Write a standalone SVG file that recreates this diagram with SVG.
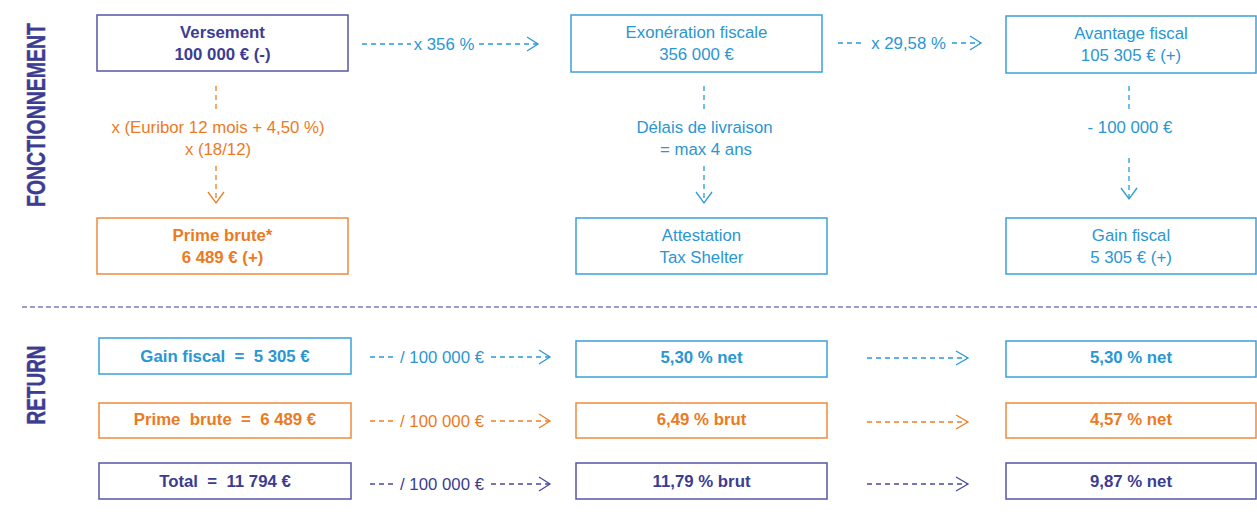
<svg xmlns="http://www.w3.org/2000/svg" width="1257" height="514" viewBox="0 0 1257 514">
<style>
text{font-family:"Liberation Sans",Arial,sans-serif;font-size:16.8px;text-anchor:middle;white-space:pre}
.b{font-weight:bold}
.cd{fill:#3c3c93}.cb{fill:#2a96d2}.co{fill:#ec7a1f}
.box{fill:#fff;stroke-width:1.5}
.sd{stroke:#5656a6}.sb{stroke:#3aa0d6}.so{stroke:#f08a3c}
.ln{fill:none;stroke-width:1.3;stroke-dasharray:5 4}
.hd{fill:none;stroke-width:1.3}
.ld{stroke:#4a4aa0}.lb{stroke:#2a9ad4}.lo{stroke:#ef7d22}
.title{font-weight:bold;font-size:25px;fill:#3c3c93;stroke:#3c3c93;stroke-width:0.4}
</style>
<rect width="1257" height="514" fill="#fff"/>
<text class="title" transform="translate(45,115) rotate(-90) scale(0.78,1)">FONCTIONNEMENT</text>
<text class="title" transform="translate(45,385) rotate(-90) scale(0.76,1)">RETURN</text>
<line x1="22" y1="307" x2="1257" y2="307" stroke="#7b7bbf" stroke-width="1.5" stroke-dasharray="5 3"/>

<g id="versement"><rect class="box sd" x="97" y="15" width="251" height="56"/><text class="b cd" x="222.5" y="38">Versement</text><text class="b cd" x="222.5" y="60">100 000 € (-)</text></g>
<g id="exoneration"><rect class="box sb" x="571" y="15" width="251" height="57"/><text class="cb" x="696.5" y="38">Exonération fiscale</text><text class="cb" x="696.5" y="60">356 000 €</text></g>
<g id="avantage"><rect class="box sb" x="1006" y="16" width="250" height="57"/><text class="cb" x="1131" y="39">Avantage fiscal</text><text class="cb" x="1131" y="61">105 305 € (+)</text></g>
<g id="prime"><rect class="box so" x="97" y="218" width="251" height="56"/><text class="b co" x="222.5" y="241">Prime brute*</text><text class="b co" x="222.5" y="263">6 489 € (+)</text></g>
<g id="attestation"><rect class="box sb" x="576" y="218" width="251" height="56"/><text class="cb" x="701.5" y="241">Attestation</text><text class="cb" x="701.5" y="263">Tax Shelter</text></g>
<g id="gain"><rect class="box sb" x="1006" y="218" width="250" height="56"/><text class="cb" x="1131" y="241">Gain fiscal</text><text class="cb" x="1131" y="263">5 305 € (+)</text></g>

<g id="r-gain"><rect class="box sb" x="99" y="338" width="252" height="36"/><text class="b cb" x="225" y="361.5">Gain fiscal  =  5 305 €</text></g>
<g id="r-prime"><rect class="box so" x="99" y="403" width="252" height="35"/><text class="b co" x="225" y="424.5">Prime  brute  =  6 489 €</text></g>
<g id="r-total"><rect class="box sd" x="99" y="463" width="252" height="36"/><text class="b cd" x="225" y="487">Total  =  11 794 €</text></g>
<g id="m-530"><rect class="box sb" x="576" y="341" width="251" height="36"/><text class="b cb" x="701.5" y="363">5,30 % net</text></g>
<g id="m-649"><rect class="box so" x="576" y="403" width="251" height="35"/><text class="b co" x="701.5" y="425">6,49 % brut</text></g>
<g id="m-1179"><rect class="box sd" x="576" y="463" width="251" height="36"/><text class="b cd" x="701.5" y="487">11,79 % brut</text></g>
<g id="n-530"><rect class="box sb" x="1006" y="341" width="250" height="36"/><text class="b cb" x="1131" y="363">5,30 % net</text></g>
<g id="n-457"><rect class="box so" x="1006" y="403" width="250" height="35"/><text class="b co" x="1131" y="425">4,57 % net</text></g>
<g id="n-987"><rect class="box sd" x="1006" y="463" width="250" height="36"/><text class="b cd" x="1131" y="487">9,87 % net</text></g>

<g id="connectors">
<line class="ln lb" x1="362" y1="44" x2="411" y2="44"/>
<text class="cb" x="444" y="50">x 356 %</text>
<line class="ln lb" x1="479" y1="44" x2="537" y2="44"/>
<polyline class="hd lb" points="527,37 538,44 527,51"/>
<line class="ln lb" x1="838" y1="43" x2="864" y2="43"/>
<text class="cb" x="908.5" y="49">x 29,58 %</text>
<line class="ln lb" x1="952" y1="43" x2="980" y2="43"/>
<polyline class="hd lb" points="970,36 981,43 970,50"/>
<line class="ln lo" x1="216" y1="86" x2="216" y2="111"/>
<text class="co" x="218" y="133">x (Euribor 12 mois + 4,50 %)</text>
<text class="co" x="218" y="155">x (18/12)</text>
<line class="ln lo" x1="216" y1="166" x2="216" y2="202"/>
<polyline class="hd lo" points="208,192 216,203 224,192"/>
<line class="ln lb" x1="704" y1="86" x2="704" y2="111"/>
<text class="cb" x="704.5" y="133">Délais de livraison</text>
<text class="cb" x="706" y="155">= max 4 ans</text>
<line class="ln lb" x1="704" y1="166" x2="704" y2="202"/>
<polyline class="hd lb" points="696,192 704,203 712,192"/>
<line class="ln lb" x1="1129" y1="86" x2="1129" y2="111"/>
<text class="cb" x="1130" y="133">- 100 000 €</text>
<line class="ln lb" x1="1129" y1="158" x2="1129" y2="198"/>
<polyline class="hd lb" points="1121,188 1129,199 1137,188"/>
<line class="ln lb" x1="370" y1="357" x2="396" y2="357"/>
<text class="cb" x="442" y="363">/ 100 000 €</text>
<line class="ln lb" x1="491" y1="357" x2="549" y2="357"/>
<polyline class="hd lb" points="539,350 550,357 539,364"/>
<line class="ln lo" x1="370" y1="421" x2="396" y2="421"/>
<text class="co" x="442" y="427">/ 100 000 €</text>
<line class="ln lo" x1="491" y1="421" x2="549" y2="421"/>
<polyline class="hd lo" points="539,414 550,421 539,428"/>
<line class="ln ld" x1="370" y1="484" x2="396" y2="484"/>
<text class="cd" x="442" y="490">/ 100 000 €</text>
<line class="ln ld" x1="491" y1="484" x2="549" y2="484"/>
<polyline class="hd ld" points="539,477 550,484 539,491"/>
<line class="ln lb" x1="867" y1="358" x2="967" y2="358"/>
<polyline class="hd lb" points="956,351 968,358 956,365"/>
<line class="ln lo" x1="867" y1="422" x2="967" y2="422"/>
<polyline class="hd lo" points="956,415 968,422 956,429"/>
<line class="ln ld" x1="867" y1="484" x2="967" y2="484"/>
<polyline class="hd ld" points="956,477 968,484 956,491"/>
</g>
</svg>
